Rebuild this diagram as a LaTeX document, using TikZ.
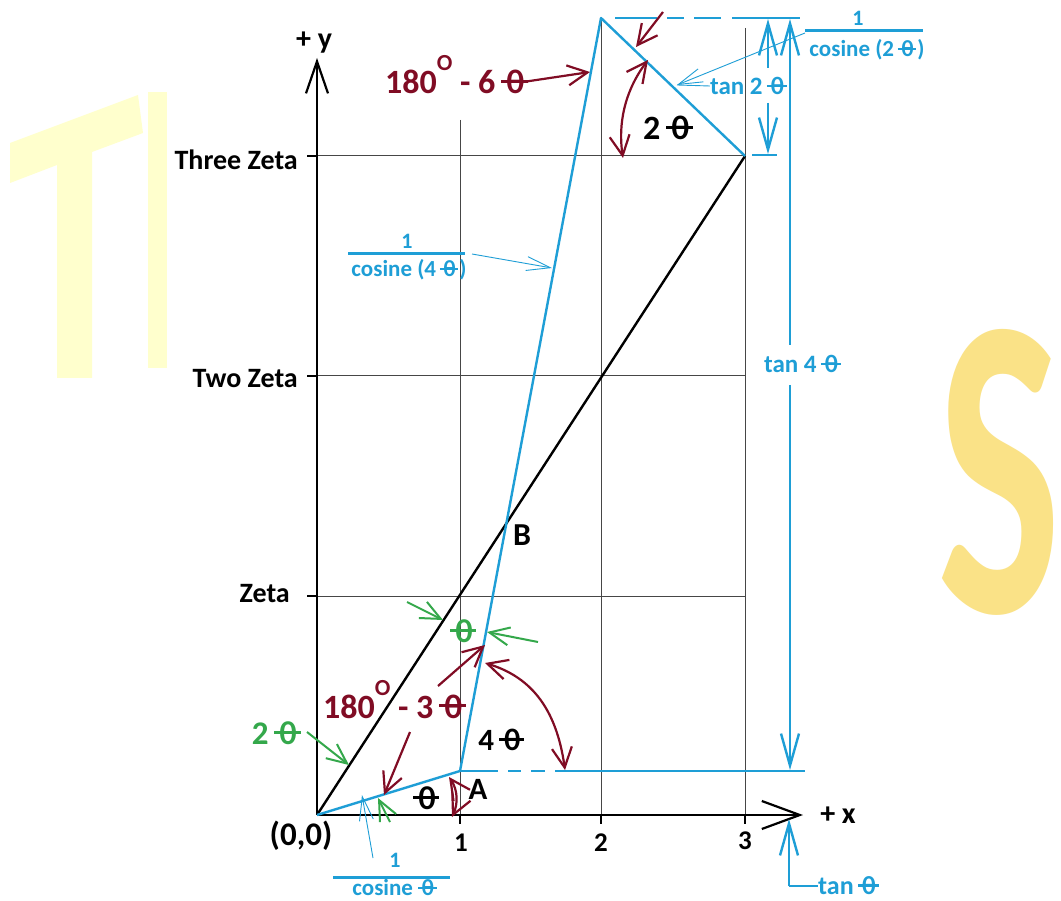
\documentclass[tikz,border=0pt]{standalone}
\usepackage{fontspec}
\setmainfont{Carlito}
\usepackage{graphicx}
\usetikzlibrary{arrows.meta}
\newcommand{\fsz}[1]{\fontsize{#1}{#1}\selectfont}
\newcommand{\thx}{\mbox{\rlap{\rule[0.31em]{0.80em}{0.09em}}\hspace{0.15em}θ\hspace{0.15em}}}
\definecolor{cblue}{RGB}{30,158,214}
\definecolor{cred}{RGB}{128,12,36}
\definecolor{cgreen}{RGB}{52,168,75}
\definecolor{cgrid}{RGB}{70,70,70}
\definecolor{wmT}{RGB}{255,255,205}
\definecolor{wmS}{RGB}{250,226,135}
\begin{document}
\begin{tikzpicture}[x=1pt,y=-1pt,
  every node/.style={inner sep=0pt},
  txt/.style={font=\bfseries\fsz{#1}},
  gridline/.style={draw=cgrid, line width=1pt},
  blk/.style={line width=2.4pt, black},
  bl/.style={line width=2.4pt, cblue, line join=round},
  thinbl/.style={line width=0.9pt, cblue},
  leadar/.style={line width=0.9pt, cblue, -{Straight Barb[length=24pt,width=14pt]}},
  redar/.style={line width=2.2pt, cred, -{Straight Barb[length=20pt,width=20pt]}},
  redartwo/.style={line width=2.2pt, cred, {Straight Barb[length=20pt,width=20pt]}-{Straight Barb[length=20pt,width=20pt]}},
  grar/.style={line width=2pt, cgreen, -{Straight Barb[length=20pt,width=18pt]}},
  dimar/.style={line width=2.4pt, cblue, -{Straight Barb[length=32pt,width=18pt]}},
  axisar/.style={line width=2.2pt, black, -{Straight Barb[length=38pt,width=28pt]}},
  yaxisar/.style={line width=2.2pt, black, -{Straight Barb[length=32pt,width=22pt]}}
]
\useasboundingbox (0,0) rectangle (1061,901);
\fill[white] (0,0) rectangle (1061,901);

% watermark
\fill[wmT] (10,143) -- (138,95) -- (143,133) -- (92,152) -- (92,378) -- (57,378) -- (57,165) -- (10,183) -- cycle;
\fill[wmT] (148,92) rectangle (167,368);
\node[text=wmS] (wmS) at (999,472) {\resizebox{124pt}{282pt}{\bfseries S}};

% key points
\coordinate (O) at (317,815);
\coordinate (A) at (460,771);
\coordinate (P) at (601,18);
\coordinate (Q) at (745,156);
\coordinate (B) at (506,523);

% grid
\draw[gridline] (460,120) -- (460,815);
\draw[gridline] (601,18) -- (601,815);
\draw[gridline] (745,28) -- (745,815);
\draw[gridline] (307,156) -- (745,156);
\draw[gridline] (307,376) -- (745,376);
\draw[gridline] (307,596) -- (745,596);
\foreach \xx in {460,601,745} {\draw[line width=1.6pt] (\xx,815) -- (\xx,824);}
\foreach \yy in {156,376,596} {\draw[line width=1.6pt] (307,\yy) -- (317,\yy);}

% axes
\coordinate (xend) at (803,815);
\coordinate (yend) at (317,58);
\draw[axisar] (O) -- (xend);
\draw[yaxisar] (O) -- (yend);

% main lines
\draw[blk] (O) -- (Q);
\draw[bl] (O) -- (A) -- (P) -- (Q);

% blue horizontal guides
\draw[bl] (A) -- (498,771);
\draw[bl] (508,771) -- (521,771);
\draw[bl] (531,771) -- (545,771);
\draw[bl] (555,771) -- (805,771);
\draw[bl] (615,18) -- (657,18);
\draw[bl] (667,18) -- (684,18);
\draw[bl] (694,18) -- (721,18);
\draw[bl] (732,18) -- (800,18);
\draw[bl] (752,155) -- (777,155);

% blue dimension arrows
\coordinate (d1a) at (768,68);  \coordinate (d1b) at (768,19);
\coordinate (d1c) at (768,103); \coordinate (d1d) at (768,154);
\draw[dimar] (d1a) -- (d1b);
\draw[dimar] (d1c) -- (d1d);
\coordinate (d2a) at (790,345); \coordinate (d2b) at (790,19);
\coordinate (d2c) at (790,385); \coordinate (d2d) at (790,770);
\draw[dimar] (d2a) -- (d2b);
\draw[dimar] (d2c) -- (d2d);
\coordinate (d3a) at (789,886); \coordinate (d3b) at (789,819);
\draw[dimar] (d3a) -- (d3b);

% labels
\node[txt=28, anchor=east] (l3z) at (298,160) {Three Zeta};
\node[txt=28, anchor=east] (l2z) at (298,379) {Two Zeta};
\node[txt=28, anchor=east] (lz) at (290,594) {Zeta};
\node[txt=30] (ly) at (314,43) {+ y};
\node[txt=30] (lx) at (838,815) {+ x};
\node[txt=33] (l00) at (301,836) {(0,0)};
\node[txt=27] (t1) at (461,843) {1};
\node[txt=27] (t2) at (601,843) {2};
\node[txt=27] (t3) at (745,841) {3};
\node[txt=31] (lA) at (478,789) {A};
\node[txt=32] (lB) at (522,535) {B};
\node[txt=33] (th1) at (427,798) {\thx};
\node[txt=31] (l4t) at (502,740) {4\,\thx};
\node[txt=34] (l2t) at (669,128) {2\,\thx};
\node[txt=34, text=cred, anchor=base west] (l6) at (385,94) {180\raisebox{23pt}{\fsz{23}O} - 6\,\thx};
\node[txt=34, text=cred, anchor=base west] (l3) at (323,718) {180\raisebox{23pt}{\fsz{23}O} - 3\,\thx};
\node[txt=33, text=cgreen] (g2t) at (277,733) {2\,\thx};
\node[txt=33, text=cgreen] (g1t) at (464,631) {\thx};

% blue labels
\node[txt=25, text=cblue] (tan2) at (749,86) {tan 2\,\thx};
\node[txt=25, text=cblue] (tan4) at (803,364) {tan 4\,\thx};
\node[txt=26, text=cblue, anchor=west] (tan1) at (818,886) {tan\,\thx};
\draw[bl] (d3a) -- (tan1.west);

\node[txt=22, text=cblue] (f1n) at (395,860) {1};
\draw[line width=3pt, cblue] (333,877) -- (450,877);
\node[txt=23, text=cblue] (f1d) at (395,888) {cosine \thx};

\node[txt=22, text=cblue] (f4n) at (407,241) {1};
\draw[line width=3pt, cblue] (348,254) -- (465,254);
\node[txt=23, text=cblue] (f4d) at (409,270) {cosine (4\,\thx)};

\node[txt=22, text=cblue] (f2n) at (858,18) {1};
\draw[line width=3pt, cblue] (805,31) -- (923,31);
\node[txt=23, text=cblue] (f2d) at (867,50) {cosine (2\,\thx)};

% blue leaders
\coordinate (k1a) at (373,858); \coordinate (k1b) at (362,795);
\draw[leadar] (k1a) -- (k1b);
\coordinate (k2a) at (472,254); \coordinate (k2b) at (552,268);
\draw[leadar] (k2a) -- (k2b);
\coordinate (k3a) at (805,33); \coordinate (k3b) at (677,85);
\draw[leadar] (k3a) -- (k3b);
\draw[thinbl] (tan2.west) -- (k3b);

% red arrows
\coordinate (r1a) at (523,82); \coordinate (r1b) at (590,72);
\draw[redar] (r1a) -- (r1b);
\coordinate (r2a) at (663,12); \coordinate (r2b) at (636,47);
\draw[redar] (r2a) -- (r2b);
\coordinate (r3a) at (648,60); \coordinate (r3b) at (623,158);
\draw[redartwo] (r3a) .. controls (624,92) and (618,125) .. (r3b);
\coordinate (r4a) at (485,663); \coordinate (r4b) at (565,770);
\draw[redartwo] (r4a) .. controls (528,676) and (556,705) .. (r4b);
\coordinate (r5a) at (438,686); \coordinate (r5b) at (485,645);
\draw[redar] (r5a) -- (r5b);
\coordinate (r6a) at (410,732); \coordinate (r6b) at (384,795);
\draw[redar] (r6a) -- (r6b);
\coordinate (r7a) at (449,777); \coordinate (r7b) at (452,817);
\draw[redartwo] (r7a) .. controls (458,790) and (458,804) .. (r7b);

% green arrows
\coordinate (g1a) at (307,732); \coordinate (g1b) at (349,765);
\draw[grar] (g1a) -- (g1b);
\coordinate (g2a) at (407,602); \coordinate (g2b) at (443,620);
\draw[grar] (g2a) -- (g2b);
\coordinate (g3a) at (538,642); \coordinate (g3b) at (487,632);
\draw[grar] (g3a) -- (g3b);
\coordinate (g4a) at (390,822); \coordinate (g4b) at (378,798);
\draw[grar] (g4a) -- (g4b);
\end{tikzpicture}
\end{document}
